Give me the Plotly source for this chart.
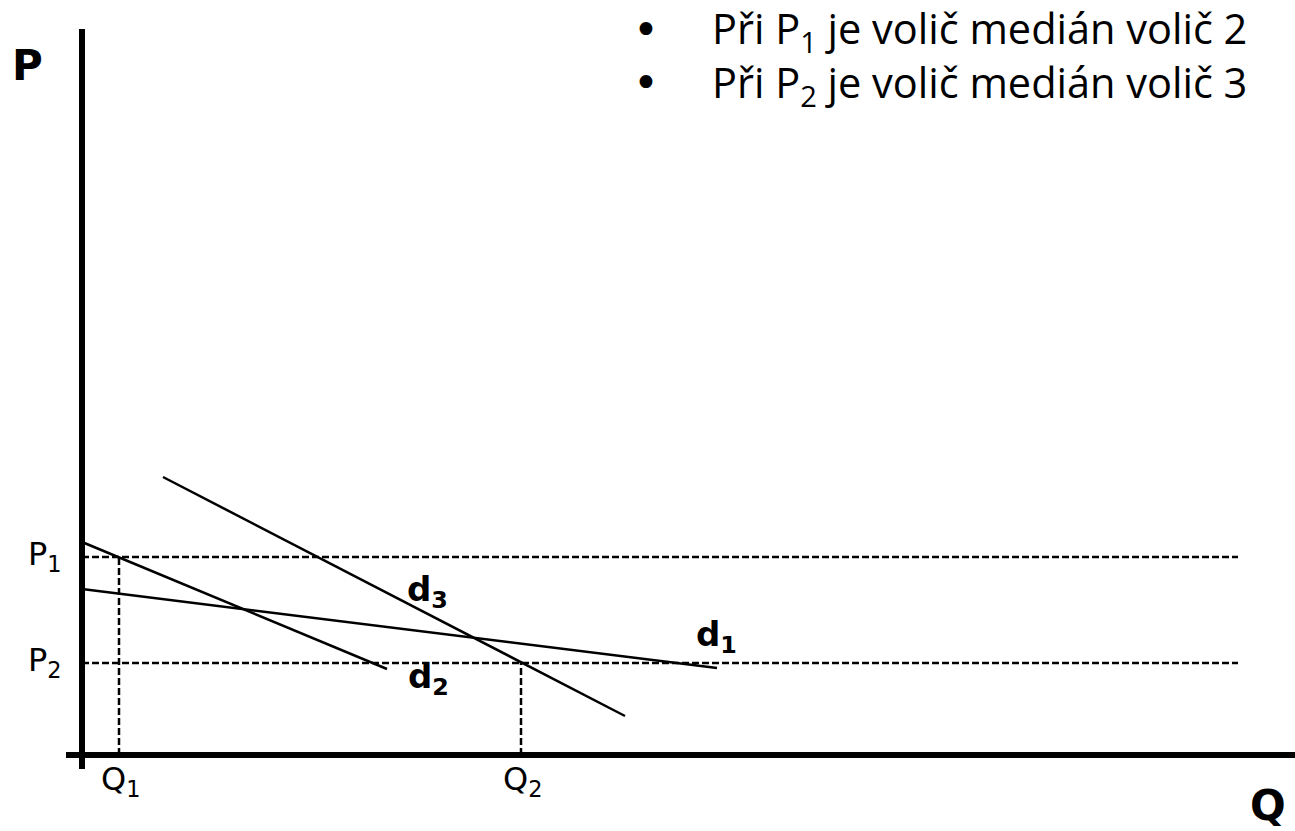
import plotly.graph_objects as go

# ---- data (economic units) ----
d1_q = [0, 63.5]
d1_p = [16.6, 8.7]
d2_q = [0, 30.5]
d2_p = [21.3, 8.6]
d3_q = [8.1, 54.3]
d3_p = [27.8, 3.9]
price_levels = [19.8, 9.2]      # P1, P2
price_labels = ["P<sub>1</sub>", "P<sub>2</sub>"]
quantities = [3.7, 43.9]        # Q1, Q2
quantity_labels = ["Q<sub>1</sub>", "Q<sub>2</sub>"]
q_end = 115.6
curve_labels = ["d<sub>1</sub>", "d<sub>2</sub>", "d<sub>3</sub>"]
bullets = ["Při P<sub>1</sub> je volič medián volič 2",
           "Při P<sub>2</sub> je volič medián volič 3"]

BLACK = "#000000"
VF = "DejaVu Sans"
DASH = "7px,3px"

fig = go.Figure()

# dashed guide lines
for p in price_levels:
    fig.add_trace(go.Scatter(x=[0, q_end], y=[p, p], mode="lines",
                             line=dict(color=BLACK, width=2.5, dash=DASH),
                             hoverinfo="skip", showlegend=False))
for q, p in zip(quantities, price_levels):
    fig.add_trace(go.Scatter(x=[q, q], y=[0, p], mode="lines",
                             line=dict(color=BLACK, width=2.5, dash=DASH),
                             hoverinfo="skip", showlegend=False))

# demand curves
for qs, ps in [(d1_q, d1_p), (d2_q, d2_p), (d3_q, d3_p)]:
    fig.add_trace(go.Scatter(x=qs, y=ps, mode="lines",
                             line=dict(color=BLACK, width=2.5),
                             hoverinfo="skip", showlegend=False))

# axes
fig.add_trace(go.Scatter(x=[0, 0], y=[-1.4, 72.6], mode="lines",
                         line=dict(color=BLACK, width=6), hoverinfo="skip", showlegend=False))
fig.add_trace(go.Scatter(x=[-1.6, 121.3], y=[0, 0], mode="lines",
                         line=dict(color=BLACK, width=6), hoverinfo="skip", showlegend=False))

ann = []
ann.append(dict(x=-5.5, y=69.0, text="<b>P</b>", font=dict(family=VF, size=42, color=BLACK),
                showarrow=False, xanchor="center", yanchor="middle"))
ann.append(dict(x=118.6, y=-5.0, text="<b>Q</b>", font=dict(family=VF, size=42, color=BLACK),
                showarrow=False, xanchor="center", yanchor="middle"))
for p, t in zip(price_levels, price_labels):
    ann.append(dict(x=-5.6, y=p, text=t, font=dict(family=VF, size=32, color=BLACK),
                    showarrow=False, xanchor="left", yanchor="middle", yshift=1))
for q, t in zip(quantities, quantity_labels):
    ann.append(dict(x=q, y=-3.2, text=t, font=dict(family=VF, size=32, color=BLACK),
                    showarrow=False, xanchor="center", yanchor="middle", xshift=1, yshift=6))
label_pos = [(61.2, 11.9), (32.4, 7.7), (32.3, 16.4)]
for (lx, ly), t in zip(label_pos, curve_labels):
    ann.append(dict(x=lx, y=ly, text="<b>" + t + "</b>", font=dict(family=VF, size=34, color=BLACK),
                    showarrow=False, xanchor="left", yanchor="middle"))
for i, t in enumerate(bullets):
    yb = 1 - (32 + i * 54) / 831
    ann.append(dict(x=646 / 1295, y=yb, xref="paper", yref="paper", text="•",
                    font=dict(family="DejaVu Sans", size=44, color=BLACK),
                    showarrow=False, xanchor="center", yanchor="middle", yshift=3))
    ann.append(dict(x=710 / 1295, y=yb, xref="paper", yref="paper", text=t,
                    font=dict(family="Open Sans", size=41.5, color=BLACK),
                    showarrow=False, xanchor="left", yanchor="middle", yshift=1))

fig.update_layout(
    width=1295, height=831,
    margin=dict(l=0, r=0, t=0, b=0),
    paper_bgcolor="white", plot_bgcolor="white",
    xaxis=dict(range=[-8.2, 121.3], visible=False, fixedrange=True),
    yaxis=dict(range=[-7.6, 75.5], visible=False, fixedrange=True),
    annotations=ann,
    showlegend=False,
)

fig.write_html("out.html", config={"displayModeBar": False},
               post_script="document.body.style.margin='0';")
